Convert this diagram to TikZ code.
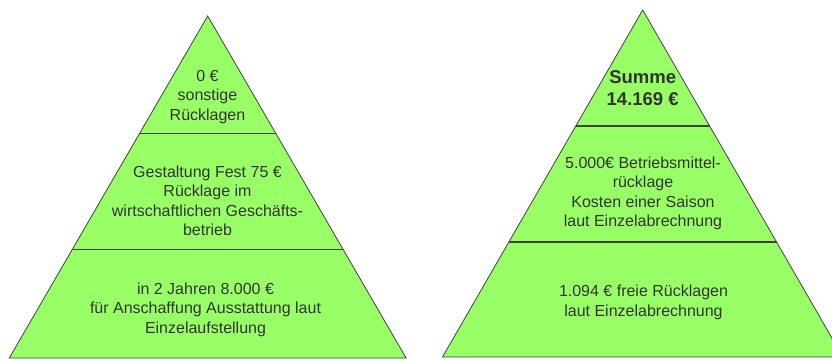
\documentclass[tikz,border=0pt]{standalone}
\usepackage{fontspec}
\setmainfont{Liberation Sans}
\definecolor{pyrgreen}{HTML}{99FF66}
\definecolor{pyrline}{HTML}{404040}
\definecolor{pyrtext}{HTML}{333333}
\tikzset{
	pyrtxt/.style={align=center, text=pyrtext, inner sep=0pt, font=\fontsize{16}{19.5}\selectfont},
	sumtxt/.style={pyrtxt, font=\bfseries\fontsize{18.5}{22}\selectfont},
}
\begin{document}
\begin{tikzpicture}[x=1pt,y=-1pt]
	\clip (0,0) rectangle (832,360);
	
	% left pyramid
	\filldraw[fill=pyrgreen, draw=pyrline, line width=0.8pt] (207.7,16) -- (9.3,358) -- (406.1,358) -- cycle;
	\draw[pyrline, line width=0.9pt] (139.8,133) -- (275.6,133);
	\draw[pyrline, line width=0.9pt] (72.6,249) -- (342.8,249);
	
	% right pyramid
	\filldraw[fill=pyrgreen, draw=pyrline, line width=0.8pt] (642.7,10) -- (442.5,357) -- (842.9,357) -- cycle;
	\draw[pyrline, line width=1.1pt] (575.8,126) -- (709.6,126);
	\draw[pyrline, line width=1.1pt] (508.8,242) -- (776.6,242);
	
	\node[pyrtxt] (ltop) at (207.5,97) {0 €\\sonstige\\Rücklagen};
	\node[pyrtxt] (lmid) at (207.5,201) {Gestaltung Fest 75 €\\Rücklage im\\wirtschaftlichen Geschäfts-\\betrieb};
	\node[pyrtxt] (lbot) at (205.5,309.5) {in 2 Jahren 8.000 €\\für Anschaffung Ausstattung laut\\Einzelaufstellung};
	
	\node[sumtxt] (rtop) at (642.7,88) {Summe\\14.169 €};
	\node[pyrtxt] (rmid) at (643,193.5) {5.000€ Betriebsmittel-\\rücklage\\Kosten einer Saison\\laut Einzelabrechnung};
	\node[pyrtxt] (rbot) at (643.5,302.5) {1.094 € freie Rücklagen\\laut Einzelabrechnung};
\end{tikzpicture}
\end{document}
